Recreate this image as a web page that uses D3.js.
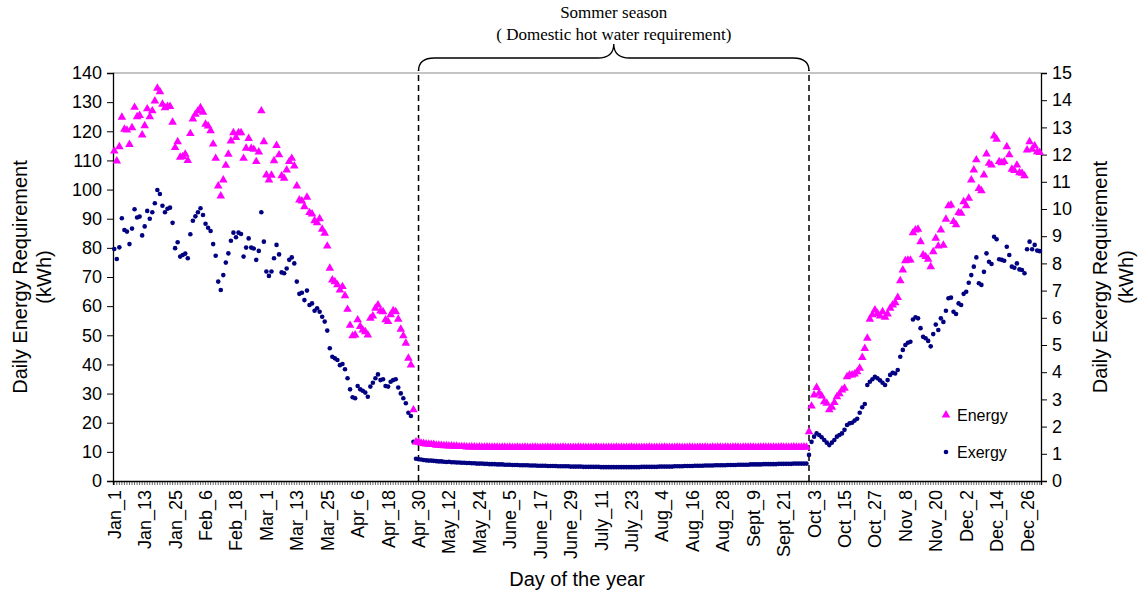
<!DOCTYPE html>
<html>
<head>
<meta charset="utf-8">
<script src="https://cdn.jsdelivr.net/npm/d3@7"></script>
<style>
  body { margin: 0; background: #fff; }
  svg { display: block; font-family: "Liberation Sans", Arial, sans-serif; }
</style>
</head>
<body>
<div id="chart"></div>
<script>
// x tick labels, one every 12 days starting Jan_1
const tickLabels = ['Jan_1','Jan_13','Jan_25','Feb_6','Feb_18','Mar_1','Mar_13','Mar_25','Apr_6','Apr_18','Apr_30',
  'May_12','May_24','June_5','June_17','June_29','July_11','July_23','Aug_4','Aug_16','Aug_28','Sept_9','Sept_21',
  'Oct_3','Oct_15','Oct_27','Nov_8','Nov_20','Dec_2','Dec_14','Dec_26'];

// energy (kWh, left axis), heating season Jan 1 .. Apr 28
const energyWinter = [113.2,109.8,114.7,124.8,120.7,120.4,115.5,121.2,128.2,125.0,125.4,118.7,121.9,127.7,125.0,127.0,130.4,134.8,133.6,129.3,
  128.1,128.5,128.5,123.1,114.4,116.4,111.1,111.3,112.1,110.0,119.2,124.2,125.8,127.0,128.1,126.5,122.4,
  121.8,120.2,115.6,110.7,101.2,97.8,103.3,108.3,112.1,116.7,119.5,117.9,119.5,119.5,110.7,114.2,117.5,114.1,113.8,109.6,
  112.9,127.0,116.4,105.0,103.3,104.9,109.9,115.1,111.9,104.7,103.9,106.7,109.6,110.7,
  108.1,101.2,96.4,96.1,94.1,97.4,92.1,91.6,89.3,88.6,90.0,86.4,85.0,80.6,73.0,69.0,68.4,67.3,65.5,66.7,
  63.6,58.9,53.4,49.8,50.1,55.3,53.0,51.8,51.2,50.1,55.8,56.6,59.3,60.4,58.3,58.1,55.3,54.7,57.0,58.4,
  58.1,55.5,52.1,49.8,47.3,42.1,39.8,24.4];

// energy, summer (hot water only) Apr 29 .. Sept 30
const energySummer = [13.4,13.3,13.0,12.9,12.7,12.6,12.5,12.5,12.3,12.3,12.2,12.1,12.1,12.0,12.0,11.9,11.9,11.8,11.8,11.8,11.7,
  11.7,11.7,11.7,11.6,11.7,11.6,11.6,11.7,11.6,11.6,11.6,11.6,11.5,11.6,11.6,11.5,11.6,11.5,11.5,11.6,
  11.5,11.5,11.6,11.5,11.5,11.5,11.6,11.5,11.5,11.5,11.5,11.6,11.5,11.5,11.5,11.5,11.5,11.6,11.5,11.5,
  11.5,11.5,11.5,11.6,11.5,11.5,11.5,11.5,11.5,11.5,11.6,11.5,11.5,11.5,11.5,11.5,11.5,11.5,11.6,11.5,
  11.5,11.5,11.5,11.5,11.6,11.5,11.5,11.5,11.5,11.5,11.5,11.6,11.5,11.5,11.5,11.5,11.5,11.6,11.5,11.5,
  11.5,11.5,11.6,11.5,11.5,11.5,11.5,11.6,11.5,11.5,11.5,11.6,11.5,11.6,11.5,11.5,11.6,11.5,11.6,11.6,
  11.5,11.6,11.6,11.5,11.6,11.6,11.6,11.5,11.6,11.6,11.6,11.6,11.6,11.5,11.6,11.6,11.6,11.6,11.6,11.6,
  11.6,11.6,11.6,11.7,11.6,11.6,11.6,11.6,11.7,11.6,11.6,11.6,11.7,11.6];

// energy, Oct 1 .. Dec 31
const energyAutumn = [16.9,25.7,29.5,32.1,30.1,29.2,27.2,26.7,24.4,25.3,26.9,28.9,29.9,31.2,31.8,35.8,36.4,36.4,36.7,37.5,
  38.7,42.4,45.5,49.0,55.5,57.0,58.7,57.5,56.6,58.1,56.2,57.3,59.3,60.4,61.2,63.0,68.7,72.4,75.6,75.8,
  75.8,85.2,86.1,86.4,82.1,77.6,77.0,76.1,73.5,78.7,83.3,80.6,86.1,80.9,89.8,94.4,94.7,89.0,87.9,92.1,
  91.9,95.8,94.4,97.0,103.3,106.7,110.2,100.4,99.6,105.0,112.2,109.0,108.4,118.4,117.3,109.6,109.2,109.6,114.7,111.9,
  107.0,106.5,108.4,105.8,105.6,104.7,113.6,116.4,113.8,115.0,113.0,112.7];

// exergy (kWh, right axis)
const exergyWinter = [8.53,8.16,8.59,9.66,9.23,9.17,8.71,9.28,9.99,9.69,9.72,9.03,9.36,9.93,9.64,9.88,10.21,10.70,10.55,10.12,
  9.88,10.01,10.05,9.49,8.56,8.78,8.25,8.31,8.36,8.19,9.07,9.57,9.73,9.88,10.03,9.78,9.46,
  9.31,9.19,8.71,8.28,7.33,7.02,7.57,8.03,8.37,8.83,9.13,8.96,9.13,9.08,8.25,8.58,8.92,8.58,8.55,8.13,
  8.46,9.88,8.80,7.70,7.54,7.70,8.19,8.68,8.33,7.67,7.64,7.81,8.13,8.22,
  8.00,7.33,6.88,6.92,6.65,7.00,6.47,6.53,6.26,6.35,6.22,6.04,5.86,5.53,4.88,4.57,4.51,4.45,4.26,4.30,
  4.11,3.78,3.37,3.08,3.04,3.49,3.37,3.32,3.25,3.10,3.47,3.61,3.78,3.92,3.71,3.74,3.49,3.47,3.65,3.71,
  3.74,3.44,3.22,3.04,2.86,2.51,2.39,1.44];

const exergySummer = [0.82,0.80,0.79,0.77,0.76,0.75,0.75,0.74,0.73,0.72,0.72,0.71,0.70,0.71,0.69,0.69,0.68,0.68,0.67,0.67,0.66,
  0.66,0.65,0.65,0.64,0.64,0.64,0.63,0.63,0.62,0.62,0.62,0.61,0.61,0.61,0.60,0.60,0.60,0.59,0.59,0.59,
  0.58,0.58,0.58,0.58,0.57,0.57,0.57,0.56,0.56,0.56,0.56,0.55,0.55,0.55,0.55,0.54,0.54,0.54,0.54,0.54,
  0.53,0.53,0.53,0.53,0.53,0.52,0.52,0.52,0.52,0.52,0.52,0.52,0.51,0.51,0.51,0.51,0.51,0.51,0.51,0.51,
  0.51,0.51,0.51,0.51,0.51,0.51,0.51,0.51,0.52,0.52,0.52,0.52,0.52,0.52,0.52,0.53,0.53,0.53,0.53,0.53,
  0.53,0.54,0.54,0.54,0.54,0.55,0.55,0.55,0.55,0.56,0.56,0.56,0.56,0.57,0.57,0.57,0.57,0.58,0.58,0.58,
  0.58,0.58,0.59,0.59,0.59,0.59,0.60,0.60,0.60,0.60,0.60,0.61,0.61,0.61,0.61,0.61,0.62,0.62,0.62,0.62,
  0.62,0.62,0.63,0.63,0.63,0.63,0.63,0.63,0.64,0.64,0.64,0.64,0.64,0.64];

const exergyAutumn = [0.96,1.44,1.63,1.75,1.69,1.61,1.51,1.41,1.32,1.41,1.51,1.63,1.69,1.75,1.88,2.06,2.12,2.14,2.22,2.29,
  2.51,2.71,2.83,3.53,3.65,3.74,3.83,3.78,3.70,3.61,3.53,3.71,3.90,3.98,3.95,4.08,4.57,4.82,5.00,5.08,
  5.12,5.94,6.02,5.98,5.62,5.30,5.25,5.15,4.95,5.40,5.75,5.55,5.98,5.85,6.26,6.72,6.74,6.22,6.14,6.53,
  6.47,6.88,6.96,7.29,7.57,7.88,8.22,7.27,7.21,7.69,8.37,8.06,7.98,8.98,8.89,8.15,8.13,8.10,8.61,8.31,
  7.88,7.84,8.00,7.78,7.76,7.64,8.52,8.80,8.52,8.68,8.47,8.45];

// season boundaries (day of year, dashed lines)
const seasonDays = [121, 275];

const energy = energyWinter.concat(energySummer, energyAutumn);
const exergy = exergyWinter.concat(exergySummer, exergyAutumn);
const days = d3.range(1, energy.length + 1);

const width = 1140, height = 597;
const margins = { top: 73, bottom: 116, left: 113, right: 99 };
const plotRight = width - margins.right;
const plotBottom = height - margins.bottom;

const svg = d3.select('#chart').append('svg')
  .attr('width', width)
  .attr('height', height);

// scales
const xScale = d3.scaleBand().domain(days).range([margins.left, plotRight]);
const xc = d => xScale(d) + xScale.bandwidth() / 2;
const yScale = d3.scaleLinear().domain([0, 140]).range([plotBottom, margins.top]);
const y2Scale = d3.scaleLinear().domain([0, 15]).range([plotBottom, margins.top]);

// plot frame (top edge)
svg.append('line')
  .attr('x1', margins.left).attr('x2', plotRight)
  .attr('y1', margins.top).attr('y2', margins.top)
  .attr('stroke', '#888').attr('stroke-width', 1);

// left axis
const yAxisGroup = svg.append('g')
  .attr('transform', `translate(${margins.left},0)`)
  .call(d3.axisLeft(yScale).tickValues(d3.range(0, 141, 10)).tickSize(6).tickPadding(5));

// right axis
const y2AxisGroup = svg.append('g')
  .attr('transform', `translate(${plotRight},0)`)
  .call(d3.axisRight(y2Scale).tickValues(d3.range(0, 16, 1)).tickSize(6).tickPadding(5));

// bottom axis: a small tick for every day, label every 12 days
const xAxisGroup = svg.append('g')
  .attr('transform', `translate(0,${plotBottom})`)
  .call(d3.axisBottom(xScale).tickSize(4).tickFormat(''));

const labelDays = tickLabels.map((t, i) => 1 + 12 * i);
const xLabelGroup = svg.append('g').attr('class', 'x-labels');
xLabelGroup.selectAll('text')
  .data(tickLabels)
  .join('text')
  .attr('transform', (t, i) => `translate(${xc(labelDays[i]) + 6.5},${plotBottom + 9}) rotate(-90)`)
  .attr('text-anchor', 'end')
  .attr('font-size', 18)
  .attr('fill', '#000')
  .text(t => t);

[yAxisGroup, y2AxisGroup, xAxisGroup].forEach(g => {
  g.select('.domain').attr('stroke', '#000').attr('stroke-width', 1.3);
  g.selectAll('.tick line').attr('stroke', '#000');
  g.selectAll('.tick text').attr('font-size', 18).attr('fill', '#000')
    .attr('font-family', '"Liberation Sans", Arial, sans-serif');
});
xAxisGroup.selectAll('.tick line').attr('stroke-width', 0.6);

// season dashed lines
svg.selectAll('.season-line')
  .data(seasonDays)
  .join('line')
  .attr('class', 'season-line')
  .attr('x1', d => xc(d)).attr('x2', d => xc(d))
  .attr('y1', plotBottom).attr('y2', margins.top - 3)
  .attr('stroke', '#000')
  .attr('stroke-width', 1.5)
  .attr('stroke-dasharray', '6,4');

// exergy dots
svg.append('g').selectAll('circle')
  .data(exergy)
  .join('circle')
  .attr('cx', (v, i) => xc(days[i]))
  .attr('cy', v => y2Scale(v))
  .attr('r', 2.3)
  .attr('fill', '#000080');

// energy triangles
const tri = d3.symbol().type(d3.symbolTriangle).size(32);
svg.append('g').selectAll('path')
  .data(energy)
  .join('path')
  .attr('d', tri)
  .attr('transform', (v, i) => `translate(${xc(days[i])},${yScale(v)})`)
  .attr('fill', '#ff00ff');

// curly brace over summer season
const bx0 = xc(seasonDays[0]), bx1 = xc(seasonDays[1]);
const bm = (bx0 + bx1) / 2;
const braceTop = 58, braceTip = 44, braceEnd = 71;
const bracePath = d3.path();
bracePath.moveTo(bx0, braceEnd);
bracePath.quadraticCurveTo(bx0, braceTop, bx0 + 16, braceTop);
bracePath.lineTo(bm - 16, braceTop);
bracePath.quadraticCurveTo(bm, braceTop, bm, braceTip);
bracePath.quadraticCurveTo(bm, braceTop, bm + 16, braceTop);
bracePath.lineTo(bx1 - 16, braceTop);
bracePath.quadraticCurveTo(bx1, braceTop, bx1, braceEnd);
svg.append('path')
  .attr('d', bracePath.toString())
  .attr('fill', 'none')
  .attr('stroke', '#000')
  .attr('stroke-width', 1.3);

svg.append('text')
  .attr('x', bm).attr('y', 18)
  .attr('text-anchor', 'middle')
  .attr('font-family', '"Liberation Serif", "Times New Roman", serif')
  .attr('font-size', 17)
  .text('Sommer season');
svg.append('text')
  .attr('x', bm).attr('y', 40)
  .attr('text-anchor', 'middle')
  .attr('font-family', '"Liberation Serif", "Times New Roman", serif')
  .attr('font-size', 17)
  .text('( Domestic hot water requirement)');

// axis titles
const yMid = (margins.top + plotBottom) / 2;
svg.append('text')
  .attr('transform', `translate(27,${yMid}) rotate(-90)`)
  .attr('text-anchor', 'middle').attr('font-size', 20)
  .text('Daily Energy Requirement');
svg.append('text')
  .attr('transform', `translate(51,${yMid}) rotate(-90)`)
  .attr('text-anchor', 'middle').attr('font-size', 20)
  .text('(kWh)');
svg.append('text')
  .attr('transform', `translate(1107,${yMid}) rotate(-90)`)
  .attr('text-anchor', 'middle').attr('font-size', 20)
  .text('Daily Exergy Requirement');
svg.append('text')
  .attr('transform', `translate(1133,${yMid}) rotate(-90)`)
  .attr('text-anchor', 'middle').attr('font-size', 20)
  .text('(kWh)');
svg.append('text')
  .attr('x', (margins.left + plotRight) / 2).attr('y', 586)
  .attr('text-anchor', 'middle').attr('font-size', 20)
  .text('Day of the year');

// legend
const legend = svg.append('g').attr('transform', 'translate(946,0)');
legend.append('path')
  .attr('d', tri)
  .attr('transform', 'translate(0,415)')
  .attr('fill', '#ff00ff');
legend.append('text').attr('x', 11).attr('y', 421).attr('font-size', 16).text('Energy');
legend.append('circle').attr('cx', 0).attr('cy', 452).attr('r', 2.3).attr('fill', '#000080');
legend.append('text').attr('x', 11).attr('y', 458).attr('font-size', 16).text('Exergy');
</script>
</body>
</html>
